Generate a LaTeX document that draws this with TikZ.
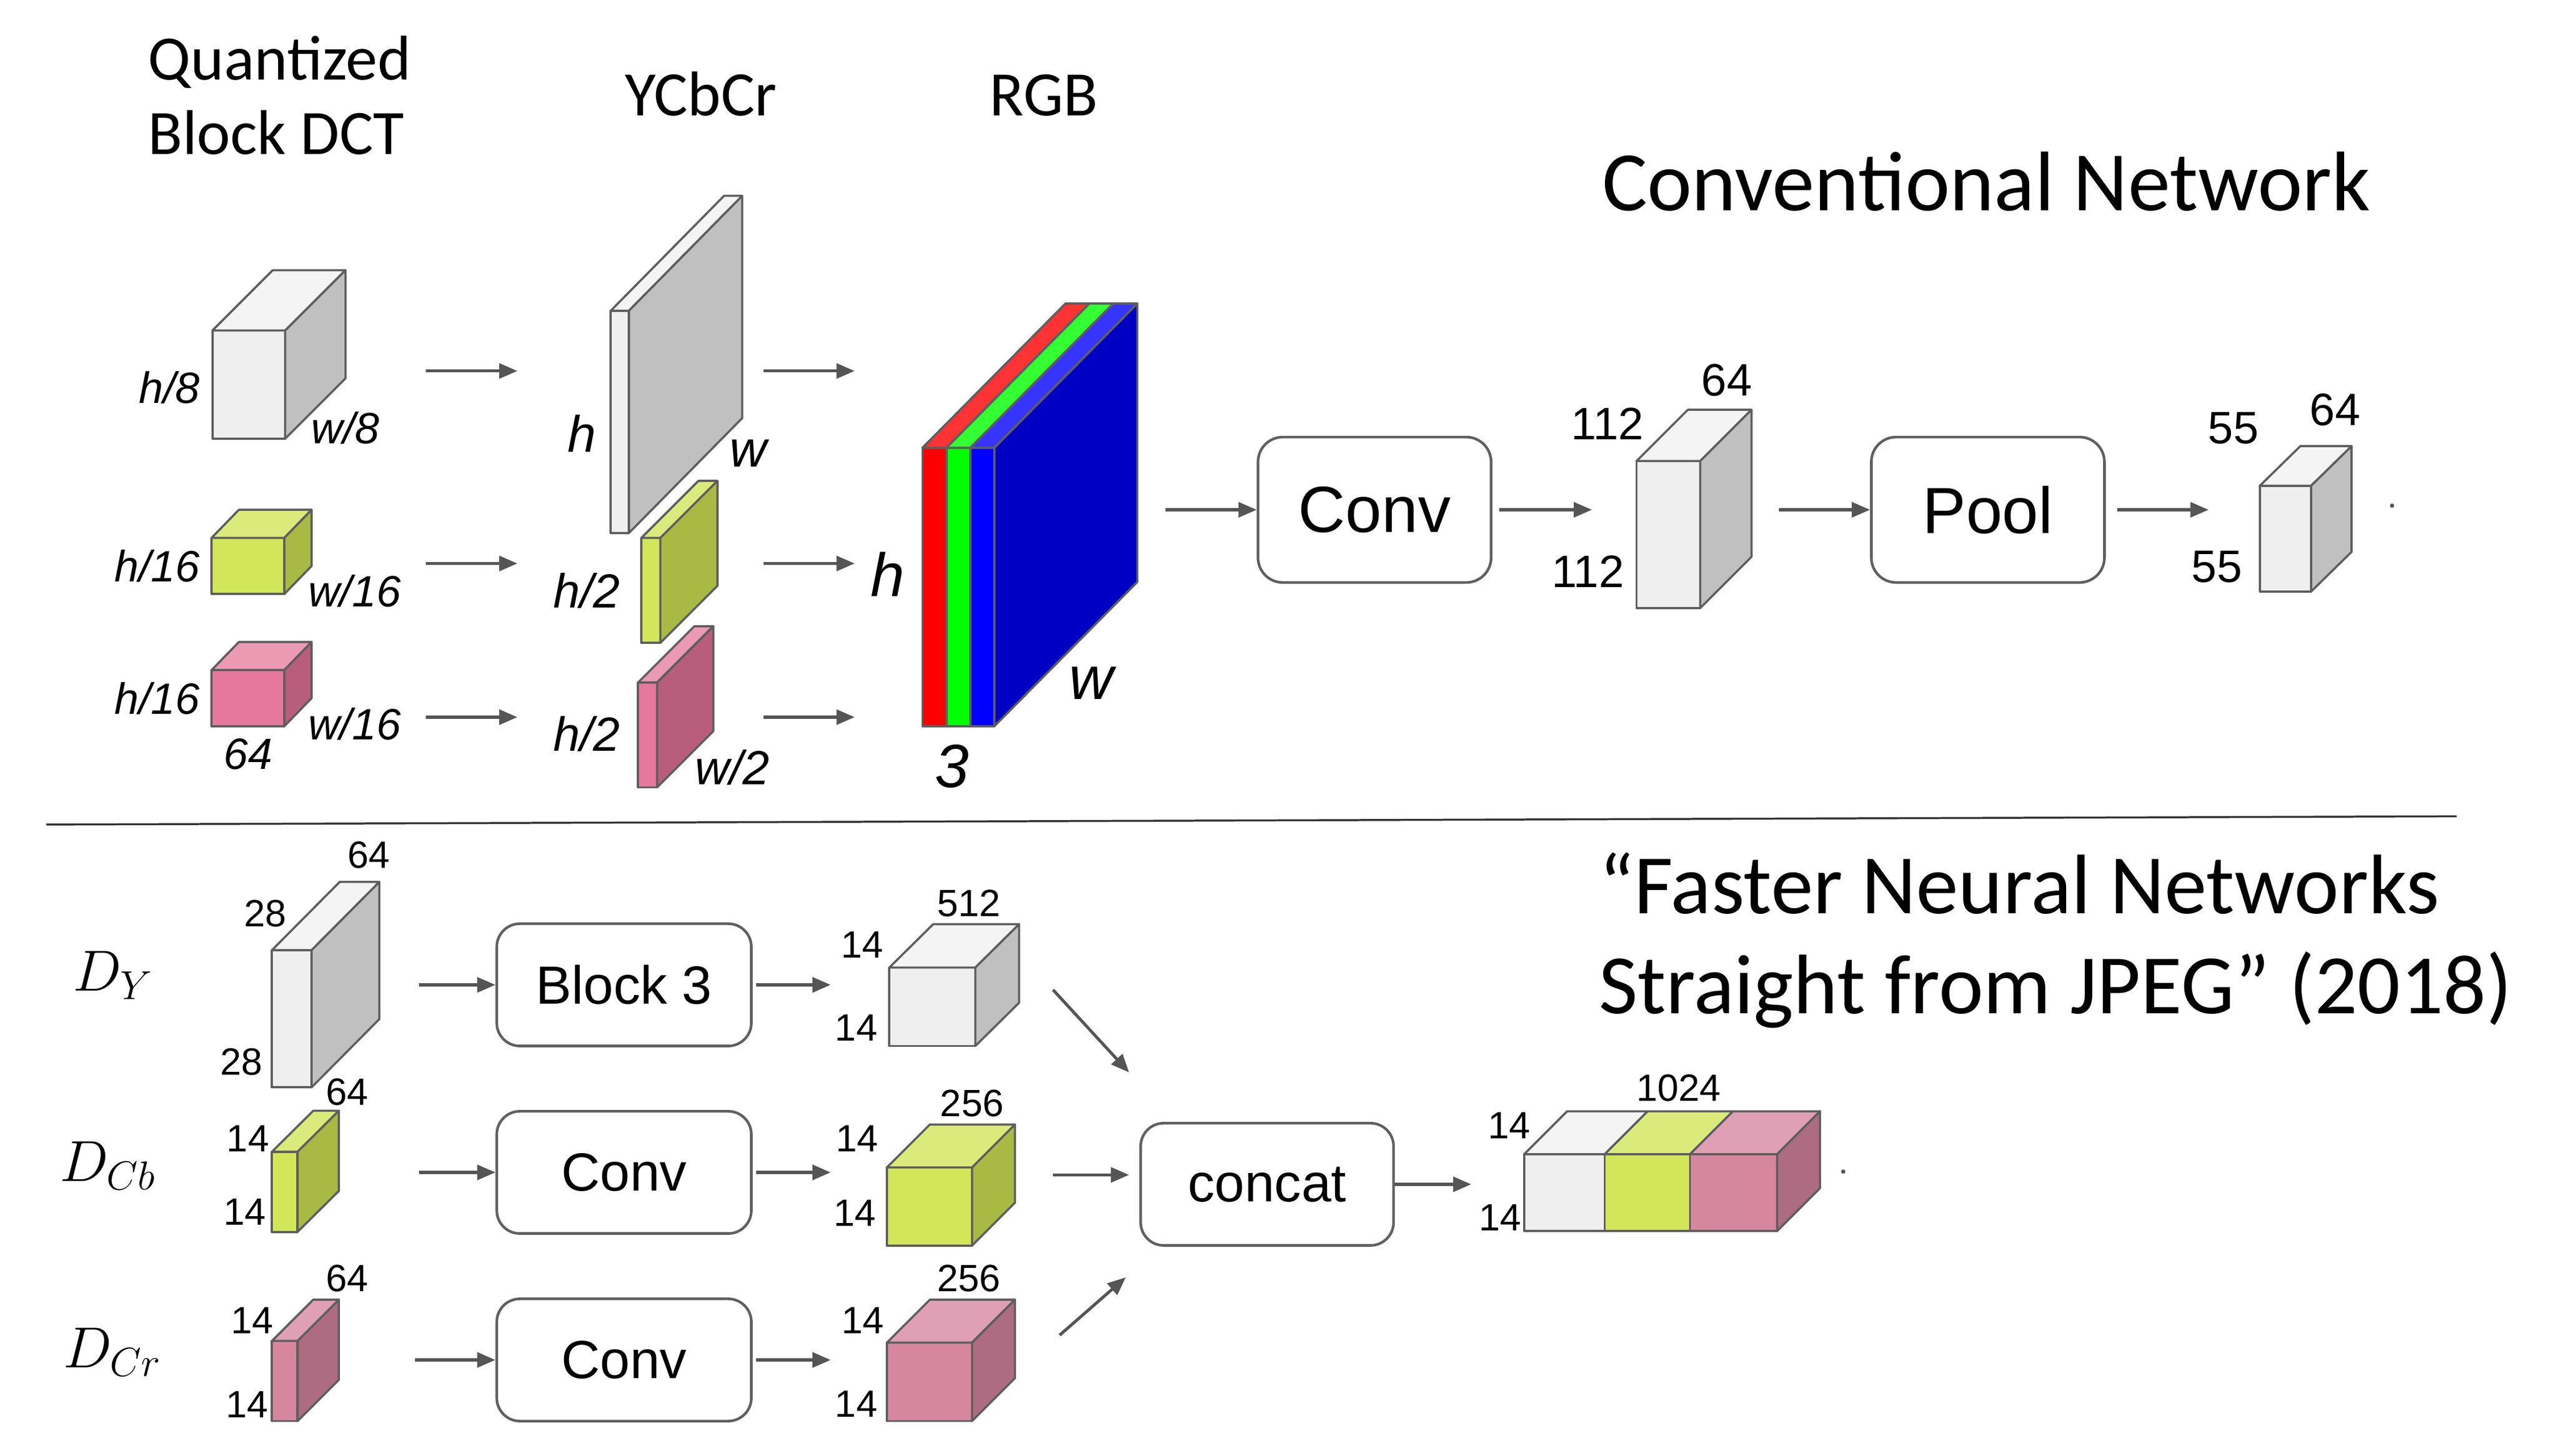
\RequirePackage{fix-cm}
\documentclass[tikz,border=0pt]{standalone}
\usepackage{fontspec}
\setmainfont{Liberation Sans}
\newfontfamily\calib{Carlito}
\usetikzlibrary{arrows.meta}
\definecolor{edgec}{HTML}{5E5E5E}
\definecolor{arrowc}{HTML}{555555}
\definecolor{boxc}{HTML}{606060}
\definecolor{wF}{HTML}{EFEFEF}
\definecolor{wT}{HTML}{F4F4F4}
\definecolor{wS}{HTML}{C0C0C0}
\definecolor{gF}{HTML}{D2E65A}
\definecolor{gT}{HTML}{DBEB7B}
\definecolor{gS}{HTML}{A8BA44}
\definecolor{pF}{HTML}{E5789C}
\definecolor{pT}{HTML}{EC9AB4}
\definecolor{pS}{HTML}{B85D7B}
\definecolor{qF}{HTML}{D6879F}
\definecolor{qT}{HTML}{DFA0B5}
\definecolor{qS}{HTML}{AD6C82}
\definecolor{RF}{HTML}{FF0000}
\definecolor{RT}{HTML}{FF3333}
\definecolor{NF}{HTML}{00FF00}
\definecolor{NT}{HTML}{33FF33}
\definecolor{BF}{HTML}{0000FF}
\definecolor{BT}{HTML}{3535FF}
\definecolor{BS}{HTML}{0000C4}
\tikzset{
  cedge/.style={draw=edgec, line width=1.3pt, line join=round},
  cnode/.style={inner sep=0pt, outer sep=0pt, anchor=north west},
  arr/.style={draw=arrowc, line width=1.8pt, -{Triangle[length=11pt,width=9pt]}},
  boxA/.style={draw=boxc, line width=1.6pt, rounded corners=15pt, fill=white,
    minimum width=141pt, minimum height=88pt, inner sep=0pt,
    font=\fontsize{39.5pt}{44pt}\selectfont},
  boxB/.style={draw=boxc, line width=1.6pt, rounded corners=14pt, fill=white,
    minimum width=154pt, minimum height=74pt, inner sep=0pt,
    font=\fontsize{32.5pt}{38pt}\selectfont},
  ttl/.style={inner sep=0pt, anchor=base west, font=\calib\fontsize{38.3pt}{44pt}\selectfont},
  bigttl/.style={inner sep=0pt, anchor=base west, font=\calib\fontsize{51.2pt}{60pt}\selectfont},
  labS/.style={inner sep=0pt, font=\fontsize{26.5pt}{30pt}\selectfont\itshape},
  labM/.style={inner sep=0pt, font=\fontsize{29pt}{34pt}\selectfont\itshape},
  labP/.style={inner sep=0pt, font=\fontsize{31pt}{36pt}\selectfont\itshape},
  labL/.style={inner sep=0pt, font=\fontsize{37pt}{42pt}\selectfont\itshape},
  numA/.style={inner sep=0pt, font=\fontsize{27.5pt}{31pt}\selectfont},
  numB/.style={inner sep=0pt, font=\fontsize{23pt}{27pt}\selectfont},
  dlab/.style={inner sep=0pt, anchor=base west, font=\fontsize{35pt}{40pt}\selectfont},
  dotn/.style={circle, fill=arrowc, inner sep=0pt, minimum size=2.6pt}
}
% cube: name, x, y (top-left of front), w, h, dx, dy, palette
\newcommand{\mkcube}[8]{%
  \pgfmathsetmacro\cxr{#2+#4}%
  \pgfmathsetmacro\cxb{#2+#6}%
  \pgfmathsetmacro\cxbr{#2+#4+#6}%
  \pgfmathsetmacro\cyb{#3-#7}%
  \pgfmathsetmacro\cyf{#3+#5}%
  \pgfmathsetmacro\cybb{#3+#5-#7}%
  \path[cedge, fill=#8F] (#2,#3) rectangle (\cxr,\cyf);
  \path[cedge, fill=#8T] (#2,#3) -- (\cxb,\cyb) -- (\cxbr,\cyb) -- (\cxr,#3) -- cycle;
  \path[cedge, fill=#8S] (\cxr,#3) -- (\cxbr,\cyb) -- (\cxbr,\cybb) -- (\cxr,\cyf) -- cycle;
  \node[cnode, minimum width=#4pt, minimum height=#5pt] (#1) at (#2,#3) {};
}
% strip: x, y, w, h, dx, dy, palette (front + top only)
\newcommand{\mkstrip}[7]{%
  \pgfmathsetmacro\sxr{#1+#3}%
  \pgfmathsetmacro\sxb{#1+#5}%
  \pgfmathsetmacro\sxbr{#1+#3+#5}%
  \pgfmathsetmacro\syb{#2-#6}%
  \pgfmathsetmacro\syf{#2+#4}%
  \path[cedge, fill=#7F] (#1,#2) rectangle (\sxr,\syf);
  \path[cedge, fill=#7T] (#1,#2) -- (\sxb,\syb) -- (\sxbr,\syb) -- (\sxr,#2) -- cycle;
}
% side: x (front right edge), y, h, dx, dy, colour
\newcommand{\mkside}[6]{%
  \pgfmathsetmacro\qxb{#1+#4}%
  \pgfmathsetmacro\qyb{#2-#5}%
  \pgfmathsetmacro\qyf{#2+#3}%
  \pgfmathsetmacro\qybb{#2+#3-#5}%
  \path[cedge, fill=#6] (#1,#2) -- (\qxb,\qyb) -- (\qxb,\qybb) -- (#1,\qyf) -- cycle;
}
\begin{document}
\begin{tikzpicture}[x=1pt,y=-1pt]
\fill[white] (0,0) rectangle (1548,880.8);
\useasboundingbox (0,0) rectangle (1548,880.8);

% ---------- titles ----------
\node[ttl] (tq) at (89.5,48.4) {Quantized};
\node[ttl] (tb) at (89.5,93.5) {Block DCT};
\node[ttl] (ty) at (378,70) {YCbCr};
\node[ttl] (tr) at (598.5,70) {RGB};
\node[bigttl] (tc) at (969,127.5) {Conventional Network};
\node[bigttl] (tf1) at (967,553) {“Faster Neural Networks};
\node[bigttl] (tf2) at (967,613.5) {Straight from JPEG” (2018)};

% ---------- top: DCT cubes ----------
\mkcube{dcta}{128.5}{200}{44}{65.5}{36.5}{36.5}{w}
\mkcube{dctb}{128}{325.5}{44}{34}{16.5}{17}{g}
\mkcube{dctc}{128}{405.5}{44}{34}{16.5}{17}{p}
\node[labS] (l1) at (102.5,234.5) {h/8};
\node[labS] (l2) at (209,259) {w/8};
\node[labS] (l3) at (95,342.5) {h/16};
\node[labS] (l4) at (214.5,357.5) {w/16};
\node[labS] (l5) at (95,422.5) {h/16};
\node[labS] (l6) at (214.5,438) {w/16};
\node[labS] (l7) at (150,456.5) {64};

% ---------- top: YCbCr plates ----------
\mkcube{ypl}{369.5}{188}{11}{134.5}{68.5}{69.5}{w}
\mkcube{cbpl}{388}{325.5}{11.5}{63.5}{34.5}{34.5}{g}
\mkcube{crpl}{386}{413}{11.5}{63.5}{34}{34}{p}
\node[labP] (l8) at (352,262.5) {h};
\node[labP] (l9) at (452.5,274.5) {w};
\node[labM] (l10) at (355,357.5) {h/2};
\node[labM] (l11) at (355,444) {h/2};
\node[labM] (l12) at (443,464.5) {w/2};

% ---------- top: RGB ----------
\mkstrip{558}{271}{14.5}{168.5}{86.5}{87.3}{R}
\mkstrip{572.5}{271}{14.5}{168.5}{86.5}{87.3}{N}
\mkstrip{587}{271}{14.5}{168.5}{86.5}{87.3}{B}
\mkside{601.5}{271}{168.5}{86.5}{87.3}{BS}
\node[cnode, minimum width=43.5pt, minimum height=168.5pt] (rgb) at (558,271) {};
\node[labL] (l13) at (537,347.5) {h};
\node[labL] (l14) at (660,413.5) {w};
\node[labL] (l15) at (576,463.6) {3};

% ---------- top arrows ----------
\coordinate (a1s) at (257.5,224.5); \coordinate (a1e) at (313,224.5);
\coordinate (a2s) at (257.5,341);   \coordinate (a2e) at (313,341);
\coordinate (a3s) at (257.5,434);   \coordinate (a3e) at (313,434);
\coordinate (b1s) at (462,224.5);   \coordinate (b1e) at (517,224.5);
\coordinate (b2s) at (462,341);     \coordinate (b2e) at (517,341);
\coordinate (b3s) at (462,434);     \coordinate (b3e) at (517,434);
\foreach \p in {a1,a2,a3,b1,b2,b3} {\draw[arr] (\p s) -- (\p e);}

% ---------- conventional network ----------
\node[boxA] (conv1) at (831.5,308.5) {Conv};
\node[boxA] (pool) at (1202.5,308.5) {Pool};
\mkcube{f112}{990}{279}{38.5}{89}{31}{31}{w}
\mkcube{f55}{1367}{294}{31}{64}{24.5}{24}{w}
\coordinate (c0s) at (705,308.5);
\coordinate (c1e) at (963,308.5);
\coordinate (c2s) at (1076,308.5);
\coordinate (c3e) at (1336,308.5);
\draw[arr] (c0s) -- (conv1.west);
\draw[arr] ([xshift=4pt]conv1.east) -- (c1e);
\draw[arr] (c2s) -- (pool.west);
\draw[arr] ([xshift=7pt]pool.east) -- (c3e);
\node[dotn] (dot1) at (1447,306) {};
\node[numA] (n1) at (1044.5,230) {64};
\node[numA] (n2) at (972.5,256.5) {112};
\node[numA] (n3) at (960.5,346) {112};
\node[numA] (n4) at (1412.5,248) {64};
\node[numA] (n5) at (1351,259) {55};
\node[numA] (n6) at (1341,343) {55};

% ---------- divider ----------
\coordinate (dv1) at (28,499);
\coordinate (dv2) at (1486,494);
\draw[line width=1.2pt, black!80] (dv1) -- (dv2);

% ---------- bottom: inputs ----------
\node[dlab] (dY) at (44,599.5) {$D_Y$};
\node[dlab] (dCb) at (36,714.8) {$D_{Cb}$};
\node[dlab] (dCr) at (38,827.6) {$D_{Cr}$};
\mkcube{dy}{164.5}{575}{24}{83}{41}{41.3}{w}
\mkcube{dcb}{164.5}{697}{15.5}{48.5}{25}{24.8}{g}
\mkcube{dcr}{164.5}{811.5}{15.5}{48.5}{25}{25}{q}
\node[numB] (m1) at (223,517.5) {64};
\node[numB] (m2) at (160.4,552.8) {28};
\node[numB] (m3) at (146,642.7) {28};
\node[numB] (m7) at (210,660.7) {64};
\node[numB] (m8) at (150,689) {14};
\node[numB] (m9) at (148,733.5) {14};
\node[numB] (m13) at (210,773.5) {64};
\node[numB] (m14) at (152.5,799) {14};
\node[numB] (m15) at (149.5,850) {14};

% ---------- bottom: blocks ----------
\node[boxB] (blk) at (377.5,596) {Block 3};
\node[boxB] (convb) at (377.5,709.5) {Conv};
\node[boxB] (convr) at (377.5,823) {Conv};
\coordinate (d1s) at (253.5,596);   \coordinate (d1e) at (502.5,596);
\coordinate (d2s) at (253.5,709.5); \coordinate (d2e) at (502.5,709.5);
\coordinate (d3s) at (251,823);     \coordinate (d3e) at (502.5,823);
\draw[arr] (d1s) -- (blk.west);
\draw[arr] ([xshift=2pt]blk.east) -- (d1e);
\draw[arr] (d2s) -- (convb.west);
\draw[arr] ([xshift=2pt]convb.east) -- (d2e);
\draw[arr] (d3s) -- (convr.west);
\draw[arr] ([xshift=2pt]convr.east) -- (d3e);

% ---------- bottom: outputs ----------
\mkcube{oy}{538}{585.5}{52}{47.5}{26.5}{26.2}{w}
\mkcube{ocb}{536.5}{706.5}{51.5}{47.3}{26}{26}{g}
\mkcube{ocr}{536.5}{812.5}{51.5}{47.5}{26}{26}{q}
\node[numB] (m4) at (586,546.8) {512};
\node[numB] (m5) at (521.5,571.6) {14};
\node[numB] (m6) at (518,622) {14};
\node[numB] (m10) at (588,667.6) {256};
\node[numB] (m11) at (518.5,689) {14};
\node[numB] (m12) at (517,734) {14};
\node[numB] (m16) at (586,773.5) {256};
\node[numB] (m17) at (522,799) {14};
\node[numB] (m18) at (518,849.5) {14};

% ---------- concat ----------
\node[boxB, minimum width=153pt] (concat) at (766.5,716.7) {concat};
\coordinate (e1s) at (637,599);   \coordinate (e1e) at (683,649);
\coordinate (e2s) at (637,711);   \coordinate (e2e) at (683,711);
\coordinate (e3s) at (641,808);   \coordinate (e3e) at (681,773);
\coordinate (e4e) at (890,716.7);
\draw[arr] (e1s) -- (e1e);
\draw[arr] (e2s) -- (e2e);
\draw[arr] (e3s) -- (e3e);
\draw[arr] (concat.east) -- (e4e);

\mkstrip{922}{698.5}{48.7}{46.5}{26}{26}{w}
\mkstrip{970.7}{698.5}{51.6}{46.5}{26}{26}{g}
\mkstrip{1022.3}{698.5}{52.7}{46.5}{26}{26}{q}
\mkside{1075}{698.5}{46.5}{26}{26}{qS}
\node[cnode, minimum width=153pt, minimum height=46.5pt] (catcube) at (922,698.5) {};
\node[numB] (m19) at (1015.5,658.5) {1024};
\node[numB] (m20) at (913,681) {14};
\node[numB] (m21) at (907.5,737) {14};
\node[dotn] (dot2) at (1115,709) {};
\end{tikzpicture}
\end{document}
